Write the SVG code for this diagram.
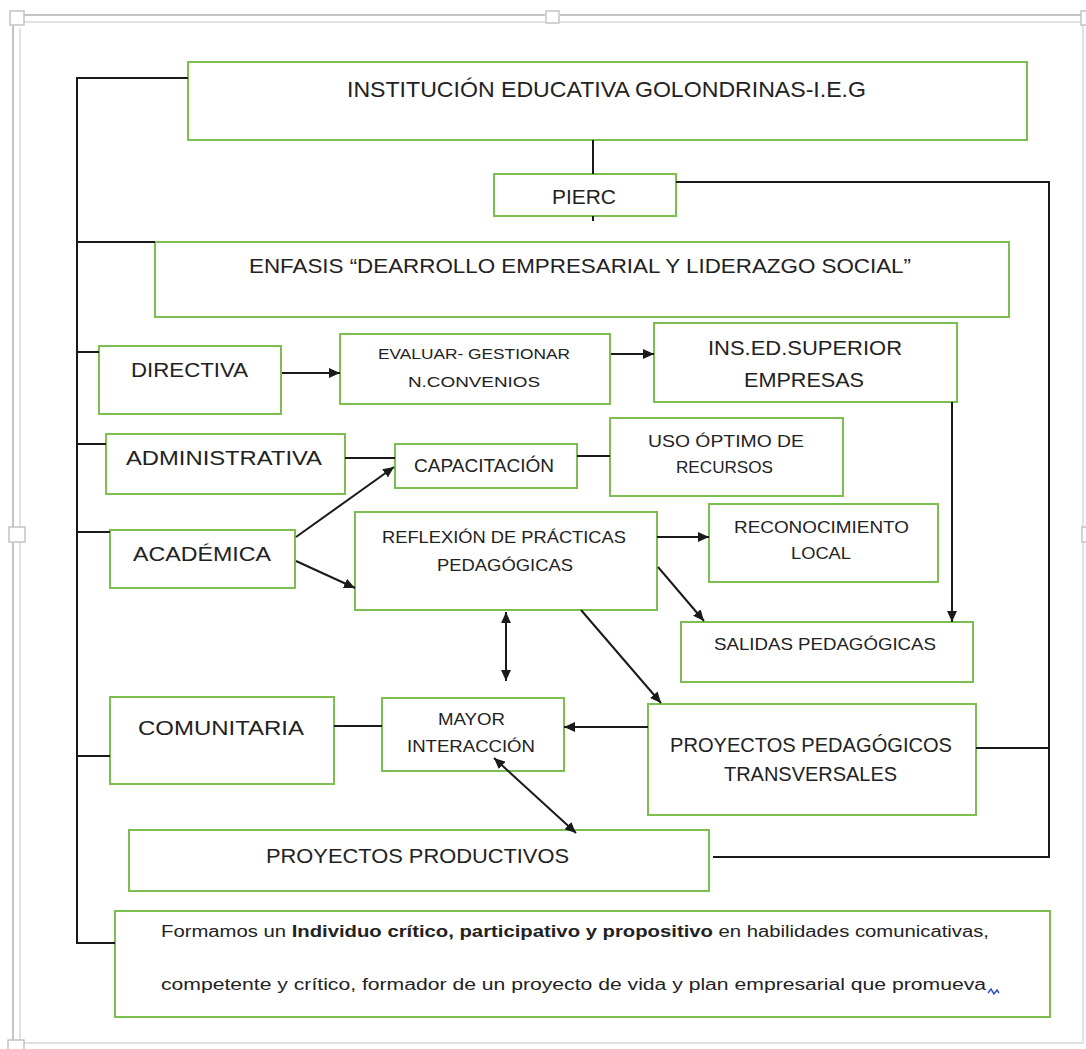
<svg xmlns="http://www.w3.org/2000/svg" width="1086" height="1049" viewBox="0 0 1086 1049">
<style>
.box{fill:#fff;stroke:#7dbf4f;stroke-width:2}
.t{font-family:"Liberation Sans",Arial,sans-serif;fill:#222;text-anchor:middle}
.c{fill:none;stroke:#1a1a1a;stroke-width:2}
.fr1{fill:none;stroke:#c4c4c4;stroke-width:2}
.fr2{fill:none;stroke:#e2e2e2;stroke-width:2}
.hd{fill:#fff;stroke:#c4c4c4;stroke-width:1.5}
.f{font-family:"Liberation Sans",Arial,sans-serif;fill:#222;font-size:16px}
</style>
<defs>
<marker id="ah" viewBox="0 0 10 9" refX="10" refY="4.5" markerWidth="11" markerHeight="10" markerUnits="userSpaceOnUse" orient="auto-start-reverse">
<path d="M0,0 L10,4.5 L0,9 z" fill="#1a1a1a"/>
</marker>
</defs>
<rect width="1086" height="1049" fill="#fff"/>
<g id="frame">
<path class="fr1" d="M13,26 V1040 M24,15 H545 M560,15 H1082"/>
<path class="fr2" d="M20,28 V1043 H1083 M20,22 H545 M560,22 H1083 V1043"/>
<rect class="hd" x="10" y="11" width="14" height="14"/>
<rect class="hd" x="546" y="11" width="13" height="12"/>
<rect class="hd" x="1081" y="11" width="10" height="14"/>
<rect class="hd" x="9" y="527" width="16" height="15"/>
<rect class="hd" x="1082" y="527" width="10" height="15"/>
<rect class="hd" x="8" y="1040" width="16" height="12"/>
</g>
<g id="institucion"><rect class="box" x="188" y="62" width="839" height="78"/><text class="t" x="606.5" y="97" font-size="22" textLength="519" lengthAdjust="spacingAndGlyphs">INSTITUCIÓN EDUCATIVA GOLONDRINAS-I.E.G</text></g>
<g id="pierc"><rect class="box" x="494" y="174" width="182" height="42"/><text class="t" x="584" y="204" font-size="21" textLength="64" lengthAdjust="spacingAndGlyphs">PIERC</text></g>
<g id="enfasis"><rect class="box" x="155" y="242" width="854" height="75"/><text class="t" x="580" y="273" font-size="21" textLength="662" lengthAdjust="spacingAndGlyphs">ENFASIS “DEARROLLO EMPRESARIAL Y LIDERAZGO SOCIAL”</text></g>
<g id="directiva"><rect class="box" x="99" y="346" width="182" height="68"/><text class="t" x="189.5" y="377" font-size="21" textLength="117" lengthAdjust="spacingAndGlyphs">DIRECTIVA</text></g>
<g id="evaluar"><rect class="box" x="340" y="334" width="270" height="70"/><text class="t" x="474" y="359" font-size="15.5" textLength="192" lengthAdjust="spacingAndGlyphs">EVALUAR- GESTIONAR</text><text class="t" x="474" y="387" font-size="15.5" textLength="132" lengthAdjust="spacingAndGlyphs">N.CONVENIOS</text></g>
<g id="insed"><rect class="box" x="654" y="323" width="303" height="79"/><text class="t" x="805" y="355" font-size="21" textLength="194" lengthAdjust="spacingAndGlyphs">INS.ED.SUPERIOR</text><text class="t" x="804" y="387" font-size="21" textLength="120" lengthAdjust="spacingAndGlyphs">EMPRESAS</text></g>
<g id="administrativa"><rect class="box" x="106" y="434" width="239" height="60"/><text class="t" x="224" y="465" font-size="21" textLength="196" lengthAdjust="spacingAndGlyphs">ADMINISTRATIVA</text></g>
<g id="capacitacion"><rect class="box" x="395" y="444" width="182" height="44"/><text class="t" x="484" y="472" font-size="18" textLength="140" lengthAdjust="spacingAndGlyphs">CAPACITACIÓN</text></g>
<g id="uso"><rect class="box" x="610" y="418" width="233" height="78"/><text class="t" x="726" y="447" font-size="17" textLength="156" lengthAdjust="spacingAndGlyphs">USO ÓPTIMO DE</text><text class="t" x="724.5" y="473" font-size="17" textLength="97" lengthAdjust="spacingAndGlyphs">RECURSOS</text></g>
<g id="academica"><rect class="box" x="110" y="530" width="185" height="58"/><text class="t" x="202" y="561" font-size="21" textLength="138" lengthAdjust="spacingAndGlyphs">ACADÉMICA</text></g>
<g id="reflexion"><rect class="box" x="355" y="512" width="302" height="98"/><text class="t" x="504" y="543" font-size="17" textLength="244" lengthAdjust="spacingAndGlyphs">REFLEXIÓN DE PRÁCTICAS</text><text class="t" x="505" y="571" font-size="17" textLength="136" lengthAdjust="spacingAndGlyphs">PEDAGÓGICAS</text></g>
<g id="reconocimiento"><rect class="box" x="709" y="504" width="229" height="78"/><text class="t" x="821.5" y="533" font-size="17" textLength="175" lengthAdjust="spacingAndGlyphs">RECONOCIMIENTO</text><text class="t" x="821" y="559" font-size="17" textLength="60" lengthAdjust="spacingAndGlyphs">LOCAL</text></g>
<g id="salidas"><rect class="box" x="681" y="622" width="292" height="60"/><text class="t" x="825" y="650" font-size="17" textLength="222" lengthAdjust="spacingAndGlyphs">SALIDAS PEDAGÓGICAS</text></g>
<g id="comunitaria"><rect class="box" x="110" y="697" width="224" height="87"/><text class="t" x="221" y="735" font-size="21" textLength="166" lengthAdjust="spacingAndGlyphs">COMUNITARIA</text></g>
<g id="mayor"><rect class="box" x="382" y="698" width="182" height="73"/><text class="t" x="471.5" y="725" font-size="16" textLength="67" lengthAdjust="spacingAndGlyphs">MAYOR</text><text class="t" x="471" y="752" font-size="16" textLength="128" lengthAdjust="spacingAndGlyphs">INTERACCIÓN</text></g>
<g id="proyped"><rect class="box" x="648" y="704" width="328" height="111"/><text class="t" x="811" y="752" font-size="20" textLength="282" lengthAdjust="spacingAndGlyphs">PROYECTOS PEDAGÓGICOS</text><text class="t" x="810.5" y="781" font-size="20" textLength="173" lengthAdjust="spacingAndGlyphs">TRANSVERSALES</text></g>
<g id="productivos"><rect class="box" x="129" y="830" width="580" height="61"/><text class="t" x="417.5" y="863" font-size="21" textLength="303" lengthAdjust="spacingAndGlyphs">PROYECTOS  PRODUCTIVOS</text></g>
<g id="formamos"><rect class="box" x="115" y="911" width="935" height="106"/>
<text class="f" x="161" y="937" textLength="828" lengthAdjust="spacingAndGlyphs">Formamos un <tspan font-weight="bold">Individuo crítico, participativo y propositivo</tspan> en habilidades comunicativas,</text>
<text class="f" x="161" y="990" textLength="825" lengthAdjust="spacingAndGlyphs">competente y crítico, formador de un proyecto de vida y plan empresarial que promueva</text>
<path d="M988,993 L991,989 L994,994 L997,990 L999,993" fill="none" stroke="#3050d0" stroke-width="1.5"/>
</g>
<g id="connectors">
<path class="c" d="M188,78 H77 V943 H115 M77,242 H155 M77,352 H99 M77,444 H106 M77,532 H110 M77,756 H110"/>
<path class="c" d="M593,140 V174 M593,216 V221"/>
<path class="c" d="M676,182 H1049 V857 H713 M976,748 H1049"/>
<path class="c" d="M282,373 H340" marker-end="url(#ah)"/>
<path class="c" d="M611,354 H654" marker-end="url(#ah)"/>
<path class="c" d="M952,402 V622" marker-end="url(#ah)"/>
<path class="c" d="M345,458 H395"/>
<path class="c" d="M577,456 H610"/>
<path class="c" d="M296,537 L394,467" marker-end="url(#ah)"/>
<path class="c" d="M296,561 L355,588" marker-end="url(#ah)"/>
<path class="c" d="M657,537 H709" marker-end="url(#ah)"/>
<path class="c" d="M658,567 L704,621" marker-end="url(#ah)"/>
<path class="c" d="M581,610 L661,703" marker-end="url(#ah)"/>
<path class="c" d="M506,612 V681" marker-start="url(#ah)" marker-end="url(#ah)"/>
<path class="c" d="M648,727 H564" marker-end="url(#ah)"/>
<path class="c" d="M334,726 H382"/>
<path class="c" d="M494,758 L576,833" marker-start="url(#ah)" marker-end="url(#ah)"/>
</g>
</svg>
